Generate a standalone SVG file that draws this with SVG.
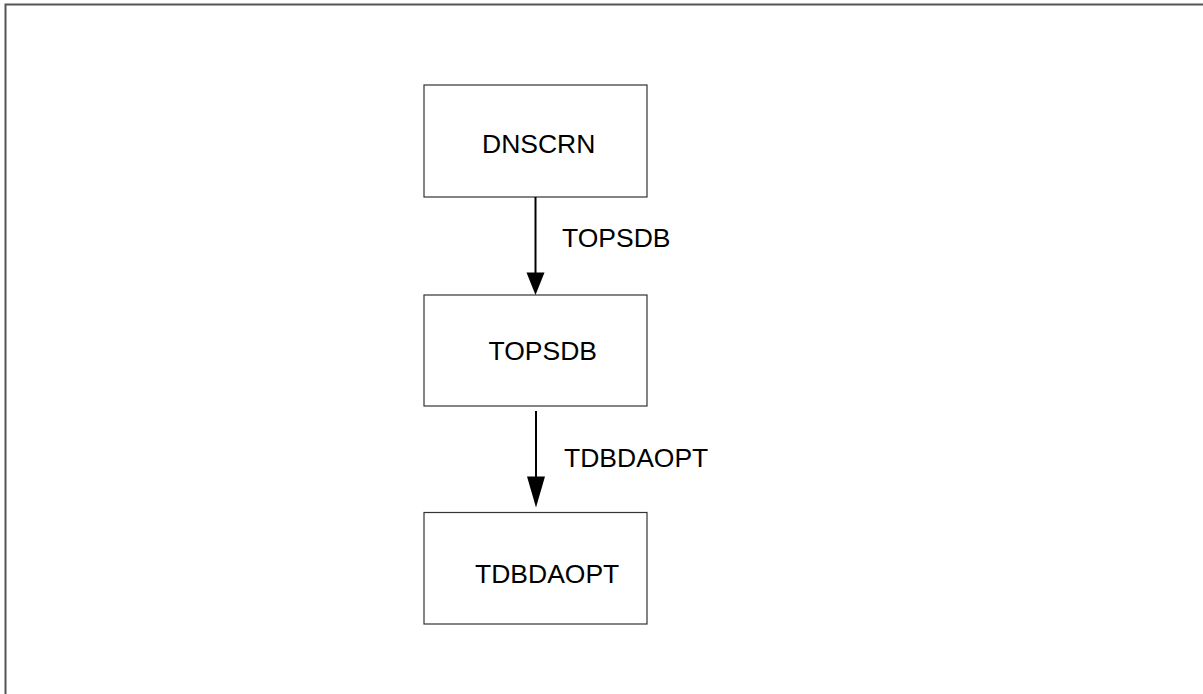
<svg xmlns="http://www.w3.org/2000/svg" width="1203" height="694" viewBox="0 0 1203 694">
<defs>
<style>
.box{fill:#fff;stroke:#333;stroke-width:1.2}
.t{font-family:"Liberation Sans",Arial,sans-serif;font-size:26.5px;fill:#000}
.c{stroke:#000;stroke-width:2;fill:none}
.frame{stroke:#555;stroke-width:2;fill:none}
</style>
</defs>
<rect width="1203" height="694" fill="#fff"/>
<path class="frame" d="M5.5,694 L5.5,4.5 L1203,4.5"/>
<g id="node-dnscrn">
<rect class="box" x="424" y="85" width="223" height="112"/>
<text class="t" x="482" y="152.5">DNSCRN</text>
</g>
<g id="node-topsdb">
<rect class="box" x="424" y="295" width="223" height="111"/>
<text class="t" x="488.5" y="360">TOPSDB</text>
</g>
<g id="node-tdbdaopt">
<rect class="box" x="424" y="512.5" width="223" height="111.5"/>
<text class="t" x="475" y="582.7">TDBDAOPT</text>
</g>
<g id="connectors">
<line class="c" x1="535.5" y1="197" x2="535.5" y2="274"/>
<path d="M526.5,272.5 L544.5,272.5 L535.5,295 Z" fill="#000"/>
<text class="t" x="562" y="246.5">TOPSDB</text>
<line class="c" x1="536" y1="411" x2="536" y2="478"/>
<path d="M527,476.5 L545,476.5 L536,507.5 Z" fill="#000"/>
<text class="t" x="564" y="467.3">TDBDAOPT</text>
</g>
</svg>
